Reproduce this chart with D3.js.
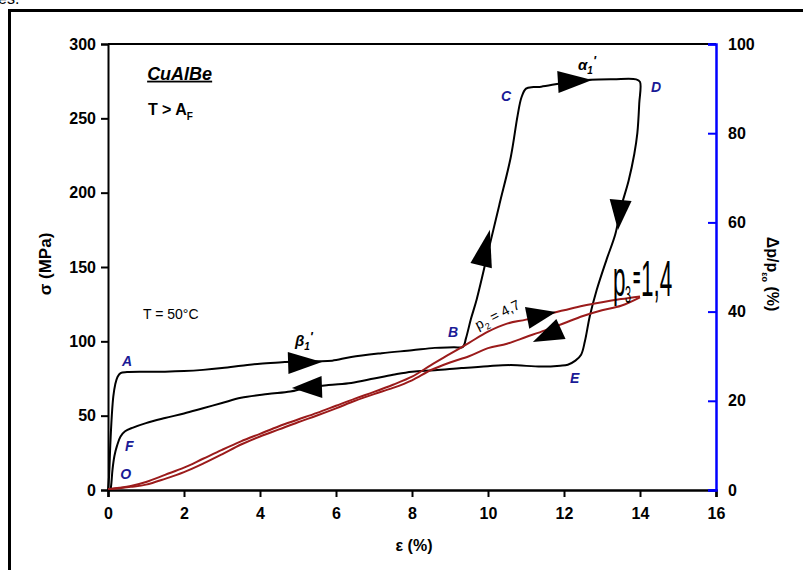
<!DOCTYPE html>
<html><head><meta charset="utf-8">
<script src="https://cdn.jsdelivr.net/npm/d3@7"></script>
<style>body{margin:0;background:#fff}svg{display:block}text{font-family:"Liberation Sans",Arial,sans-serif}</style>
</head><body>
<script>
// ---- data ----
const strainTicks = [0,2,4,6,8,10,12,14,16];
const stressTicks = [0,50,100,150,200,250,300];
const resTicks = [0,20,40,60,80,100];

// stress-strain loop (strain %, stress MPa)
const loadStrain = [0,0.03,0.06,0.1,0.14,0.19,0.25,0.33,0.5,1,1.5,2,2.5,3,3.5,4,4.5,5,5.5,5.9,6.4,7.2,8,8.6,9.1,9.34,9.42,9.55,9.7,10.0,10.3,10.6,10.78,10.88,11.0,11.2,11.4,11.9,12.3,12.7,13.3,13.9,14.0];
const loadStress = [0,10,30,50,63,71,76,78.6,79.3,79.5,79.6,80,80.8,82,83.5,85,85.8,86.4,86.6,87,89.5,92,94,95.6,96,96.3,102,115,128,160,192,224,252,264,270,271,271.3,273.5,275,276,276.3,276.2,274.5];
const unloadStrain = [13.98,13.93,13.85,13.7,13.5,13.35,13.12,12.86,12.68,12.55,12.45,12.3,12.1,11.9,11.4,10.6,10,9.3,8.6,8.0,7.5,7.0,6.4,5.8,5.2,4.8,4.2,3.5,3.0,2.5,2.0,1.5,1.0,0.66,0.45,0.33,0.24,0.17,0.12,0.09,0.07];
const unloadStress = [260,240,226,208,190,172,155,134.5,117,100,91,87,84.3,83.6,83,84,83.3,82,80.5,79.6,77.5,75,72,70.6,68.6,66.2,64.5,62,58.5,55,51.5,48.4,45,42,39.5,36,30,23,14,5,0];

// resistivity change (strain %, %)
const resStrain = [0,0.3,0.6,1,1.5,2,2.5,3,3.5,4,4.5,5,5.5,6,6.5,7,7.5,8,8.5,9,9.5,10,10.5,11,11.5,12,12.5,13,13.5,14];
const resLoad   = [0.2,0.5,0.9,1.8,3.4,5.0,7.0,9.0,10.9,12.6,14.3,15.8,17.3,18.9,20.5,22.0,23.6,25.4,28.0,30.5,33.0,35.5,37.3,38.2,39.3,40.3,41.3,42.1,42.8,43.4];
const resUnload = [0.2,0.4,0.7,1.2,2.5,4.0,5.9,8.0,10.2,12.0,13.6,15.2,16.7,18.3,20.0,21.5,22.9,24.6,26.9,28.6,30.0,31.8,32.8,34.3,35.8,37.4,39.0,40.3,41.3,43.2];

// direction arrows: [tail strain, tail value, tip strain, tip value, axis]
const arrows = [
  [4.74,85.4,5.63,86.1,"L"],
  [5.63,69.3,4.84,68.6,"L"],
  [9.82,151,10.05,175,"L"],
  [11.84,274.4,12.74,275.8,"L"],
  [13.49,195,13.42,174.9,"L"],
  [11.03,38.6,11.79,39.9,"R"],
  [11.92,36.1,11.18,33.2,"R"]
];
const pointLabels = ["A","F","O","B","C","D","E"];
const pointStrain = [0.37,0.45,0.32,8.95,10.34,14.29,12.16];
const pointStress = [83.5,26.2,7.4,102.9,261.6,267.7,72];

// ---- chart ----
const W=803,H=570;
const svg=d3.select("body").append("svg").attr("width",W).attr("height",H);
const x=d3.scaleLinear().domain([0,16]).range([108,716]);
const yL=d3.scaleLinear().domain([0,300]).range([490,44]);
const yR=d3.scaleLinear().domain([0,100]).range([490,44]);

// outer frame
svg.append("rect").attr("x",9.5).attr("y",10.5).attr("width",900).attr("height",700)
  .attr("fill","none").attr("stroke","#000").attr("stroke-width",3);
svg.append("text").attr("x",-2).attr("y",4).attr("font-family","Liberation Serif,serif").attr("font-size",16).text("es.");

// top frame line
svg.append("line").attr("x1",x(0)).attr("x2",x(16)).attr("y1",yL(300)).attr("y2",yL(300))
  .attr("stroke","#000").attr("stroke-width",2);

// left axis
const gL=svg.append("g").attr("transform",`translate(${x(0)},0)`);
gL.call(d3.axisLeft(yL).tickValues(d3.range(0,301,25)).tickSize(4).tickFormat(""));
gL.call(d3.axisLeft(yL).tickValues(stressTicks).tickSize(7).tickPadding(5).tickFormat(d3.format("d")));
gL.selectAll("path.domain").attr("stroke-width",2);
gL.selectAll("line").attr("stroke-width",2);
gL.selectAll("text").attr("font-size",16).attr("font-weight","bold").attr("fill","#000");

// bottom axis
const gB=svg.append("g").attr("transform",`translate(0,${yL(0)})`);
gB.call(d3.axisBottom(x).tickValues(d3.range(0,17,1)).tickSize(4).tickFormat(""));
gB.call(d3.axisBottom(x).tickValues(strainTicks).tickSize(7).tickPadding(11).tickFormat(d3.format("d")));
gB.selectAll("path.domain").attr("stroke-width",2.5);
gB.selectAll("line").attr("stroke-width",2);
gB.selectAll("text").attr("font-size",16).attr("font-weight","bold").attr("fill","#000");

// right axis (blue)
const gR=svg.append("g").attr("transform",`translate(${x(16)},0)`);
gR.call(d3.axisRight(yR).tickValues(d3.range(0,101,10)).tickSize(-5).tickFormat(""));
gR.call(d3.axisRight(yR).tickValues(resTicks).tickSize(-8).tickPadding(12).tickFormat(d3.format("d")));
gR.selectAll("path.domain").attr("stroke","#0000ff").attr("stroke-width",2.5);
gR.selectAll("line").attr("stroke","#0000ff").attr("stroke-width",2);
gR.selectAll("text").attr("font-size",16).attr("font-weight","bold").attr("fill","#000");

// axis titles
svg.append("text").attr("x",(x(0)+x(16))/2+2).attr("y",551).attr("text-anchor","middle")
  .attr("font-size",16).attr("font-weight","bold").text("ε (%)");
svg.append("text").attr("transform","translate(51,264) rotate(-90)").attr("text-anchor","middle")
  .attr("font-size",17).attr("font-weight","bold").text("σ (MPa)");
const rt=svg.append("text").attr("transform","translate(767,274) rotate(90)").attr("text-anchor","middle")
  .attr("font-size",16).attr("font-weight","bold");
rt.append("tspan").text("Δp/p");
rt.append("tspan").attr("font-size",9).attr("dy",5).text("εo");
rt.append("tspan").attr("dy",-5).text("  (%)");

// curves
const lineL=d3.line().x(d=>x(d[0])).y(d=>yL(d[1])).curve(d3.curveCatmullRom.alpha(0.5));
const lineR=d3.line().x(d=>x(d[0])).y(d=>yR(d[1])).curve(d3.curveCatmullRom.alpha(0.5));
const loop=loadStrain.map((e,i)=>[e,loadStress[i]]).concat(unloadStrain.map((e,i)=>[e,unloadStress[i]]));
svg.append("path").attr("d",lineL(loop)).attr("fill","none").attr("stroke","#000").attr("stroke-width",2);
svg.append("path").attr("d",lineR(resStrain.map((e,i)=>[e,resLoad[i]]))).attr("fill","none").attr("stroke","#9b1b1b").attr("stroke-width",2);
svg.append("path").attr("d",lineR(resStrain.map((e,i)=>[e,resUnload[i]]))).attr("fill","none").attr("stroke","#9b1b1b").attr("stroke-width",2);

// arrows
arrows.forEach(a=>{
  const ys=a[4]==="L"?yL:yR;
  const x0=x(a[0]),y0=ys(a[1]),x1=x(a[2]),y1=ys(a[3]);
  const dx=x1-x0,dy=y1-y0,len=Math.hypot(dx,dy),ux=dx/len,uy=dy/len;
  const hw=11;
  const p=[[x1,y1],[x0-uy*hw,y0+ux*hw],[x0+uy*hw,y0-ux*hw]];
  svg.append("path").attr("d","M"+p.map(q=>q.join(",")).join("L")+"Z").attr("fill","#000");
});

// point labels
pointLabels.forEach((t,i)=>{
  svg.append("text").attr("x",x(pointStrain[i])).attr("y",yL(pointStress[i]))
    .attr("font-size",14).attr("font-weight","bold").attr("font-style","italic").attr("fill","#1a1a96").text(t);
});

// annotations
svg.append("text").attr("x",x(1.03)).attr("y",yL(276)).attr("font-size",18).attr("font-weight","bold")
  .attr("font-style","italic").attr("text-decoration","underline").text("CuAlBe");
const tf=svg.append("text").attr("x",x(1.05)).attr("y",yL(252)).attr("font-size",16).attr("font-weight","bold");
tf.append("tspan").text("T > A");
tf.append("tspan").attr("font-size",10).attr("dy",5).text("F");
svg.append("text").attr("x",x(0.92)).attr("y",yL(115)).attr("font-size",14).text("T = 50°C");

const b1=svg.append("text").attr("x",x(4.92)).attr("y",yL(97)).attr("font-size",15).attr("font-weight","bold").attr("font-style","italic");
b1.append("tspan").text("β");
b1.append("tspan").attr("font-size",10).attr("dy",4).text("1");
b1.append("tspan").attr("dy",-9).attr("font-size",13).text("'");
const a1=svg.append("text").attr("x",x(12.37)).attr("y",yL(282.5)).attr("font-size",15).attr("font-weight","bold").attr("font-style","italic");
a1.append("tspan").text("α");
a1.append("tspan").attr("font-size",10).attr("dy",4).text("1");
a1.append("tspan").attr("dy",-9).attr("font-size",13).text("'");

const p2=svg.append("text").attr("transform",`translate(${x(9.74)},${yR(35.9)}) rotate(-27)`).attr("font-size",14);
p2.append("tspan").text("p");
p2.append("tspan").attr("font-size",9).attr("dy",4).text("2");
p2.append("tspan").attr("dy",-4).text(" = 4,7");

const p3x=x(13.29),p3y=yR(43.5);
svg.append("text").attr("transform",`translate(${p3x},${p3y}) scale(0.45,1)`).attr("font-size",50).text("p");
svg.append("text").attr("transform",`translate(${p3x+12},${p3y+7}) scale(0.45,1)`).attr("font-size",24).text("3");
svg.append("text").attr("transform",`translate(${p3x+20},${p3y-8}) scale(0.42,1)`).attr("font-size",30).attr("font-weight","bold").text("=");
svg.append("text").attr("transform",`translate(${p3x+28},${p3y}) scale(0.45,1)`).attr("font-size",50).text("1,4");
</script>
</body></html>
